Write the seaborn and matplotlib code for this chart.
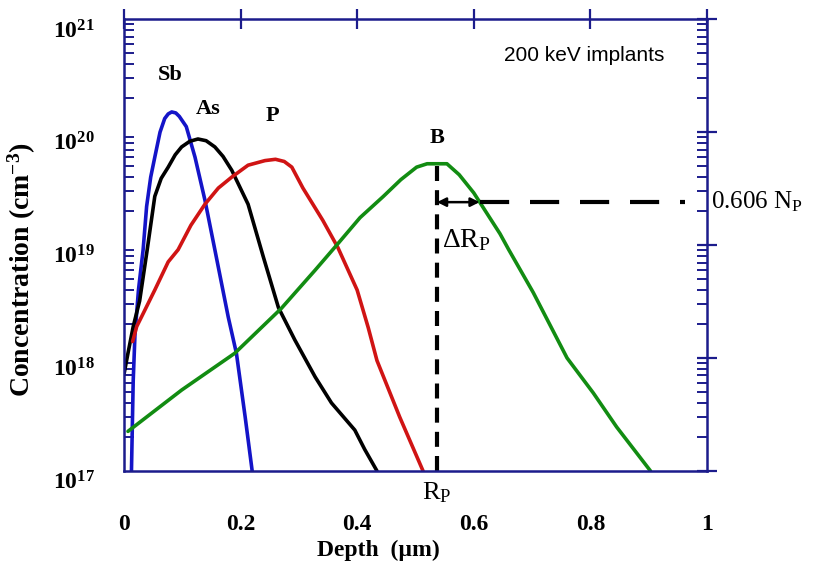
import numpy as np
import pandas as pd
import matplotlib
matplotlib.use("Agg")
import matplotlib.pyplot as plt
from matplotlib.ticker import FixedLocator, FixedFormatter, LogLocator, NullFormatter
from matplotlib.transforms import ScaledTranslation
import seaborn as sns

# depth (um) and concentration (cm-3)
sb_depth = [0.013, 0.016, 0.019, 0.025, 0.033, 0.039, 0.046, 0.053, 0.062, 0.070, 0.076, 0.082,
            0.089, 0.095, 0.107, 0.122, 0.139, 0.156, 0.179, 0.193, 0.208, 0.220]
sb_conc = [1.0e17, 6.3e17, 1.6e18, 4.0e18, 9.1e18, 2.2e19, 4.0e19, 6.0e19, 1.0e20, 1.32e20, 1.45e20, 1.51e20,
           1.48e20, 1.38e20, 1.12e20, 6.0e19, 2.5e19, 9.1e18, 2.3e18, 1.1e18, 3.0e17, 1.0e17]

as_depth = [0.0, 0.007, 0.016, 0.027, 0.040, 0.053, 0.064, 0.076, 0.088, 0.099, 0.113, 0.127, 0.141, 0.156,
            0.170, 0.185, 0.213, 0.239, 0.265, 0.293, 0.328, 0.356, 0.396, 0.413, 0.434]
as_conc = [7.1e17, 1.1e18, 1.9e18, 3.2e18, 9.1e18, 2.7e19, 3.9e19, 4.9e19, 6.3e19, 7.4e19, 8.3e19, 8.7e19, 8.4e19, 7.4e19,
           6.1e19, 4.6e19, 2.3e19, 7.9e18, 2.8e18, 1.45e18, 6.8e17, 4.0e17, 2.3e17, 1.55e17, 1.0e17]

p_depth = [0.015, 0.022, 0.030, 0.053, 0.076, 0.093, 0.115, 0.139, 0.162, 0.185, 0.213, 0.242,
           0.260, 0.275, 0.288, 0.307, 0.341, 0.367, 0.400, 0.419, 0.434, 0.473, 0.513]
p_conc = [1.4e18, 1.9e18, 2.3e18, 4.0e18, 7.1e18, 9.1e18, 1.5e19, 2.3e19, 3.2e19, 4.0e19, 5.1e19, 5.6e19,
          5.75e19, 5.5e19, 4.9e19, 3.2e19, 1.66e19, 9.5e18, 4.0e18, 1.86e18, 9.5e17, 3.0e17, 1.0e17]

b_depth = [0.007, 0.099, 0.190, 0.270, 0.328, 0.365, 0.405, 0.445, 0.475, 0.502, 0.520, 0.554,
           0.575, 0.600, 0.645, 0.660, 0.702, 0.760, 0.805, 0.845, 0.903]
b_conc = [2.24e17, 5.2e17, 1.1e18, 2.75e18, 6.0e18, 1.0e19, 1.75e19, 2.7e19, 3.8e19, 4.9e19, 5.25e19, 5.25e19,
          4.2e19, 2.9e19, 1.26e19, 9.1e18, 3.8e18, 1.0e18, 4.9e17, 2.45e17, 1.0e17]

rp = 0.537          # projected range of B
np_peak = 5.25e19   # B peak
level_606 = 2.4e19  # drawn level of 0.606 Np
drp_end = 0.61
dash_end = 0.963

xticks = [0, 0.2, 0.4, 0.6, 0.8, 1]
xtick_labels = ["0", "0.2", "0.4", "0.6", "0.8", "1"]
yticks = [1e17, 1e18, 1e19, 1e20, 1e21]
ytick_labels = ["$10^{17}$", "$10^{18}$", "$10^{19}$", "$10^{20}$", "$10^{21}$"]

ions = ["Sb", "As", "P", "B"]
colors = {"Sb": "#1414c8", "As": "#000000", "P": "#d01414", "B": "#128c12"}

frames = []
for ion, d, c in zip(ions, [sb_depth, as_depth, p_depth, b_depth], [sb_conc, as_conc, p_conc, b_conc]):
    frames.append(pd.DataFrame({"depth": d, "conc": c, "ion": ion}))
df = pd.concat(frames, ignore_index=True)

sns.set_style("white")
plt.rcParams["font.family"] = ["Liberation Serif", "DejaVu Serif"]
plt.rcParams["mathtext.default"] = "regular"
plt.rcParams["text.color"] = "black"
plt.rcParams["axes.labelcolor"] = "black"
plt.rcParams["xtick.labelcolor"] = "black"
plt.rcParams["ytick.labelcolor"] = "black"

axis_col = "#1c1c8c"

fig = plt.figure(figsize=(8.15, 5.66), dpi=100)
ax = fig.add_axes([0.152, 0.168, 0.7155, 0.798])

sns.lineplot(data=df, x="depth", y="conc", hue="ion", palette=colors, units="ion",
             estimator=None, sort=False, legend=False, linewidth=2.6, ax=ax)

ax.set_yscale("log")
ax.set_xlim(0, 1)
ax.set_ylim(1e17, 1e21)

# dashed construction lines for B
ax.plot([rp, rp], [1e17, np_peak], color="black", lw=3, ls=(0, (3.6, 2.2)))
ax.plot([drp_end, dash_end], [level_606, level_606], color="black", lw=3, ls=(0, (7, 5)))
ax.annotate("", xy=(rp, level_606), xytext=(drp_end, level_606),
            arrowprops=dict(arrowstyle="<|-|>", color="black", lw=1.8, mutation_scale=13,
                            shrinkA=0, shrinkB=0))

for s in ax.spines.values():
    s.set_color(axis_col)
    s.set_linewidth(1.8)

ax.xaxis.set_major_locator(FixedLocator(xticks))
ax.xaxis.set_major_formatter(FixedFormatter(xtick_labels))
ax.yaxis.set_major_locator(FixedLocator(yticks))
ax.yaxis.set_major_formatter(FixedFormatter(ytick_labels))
ax.yaxis.set_minor_locator(LogLocator(base=10, subs=np.arange(2, 10), numticks=20))
ax.yaxis.set_minor_formatter(NullFormatter())

ax.tick_params(axis="both", which="major", direction="inout", length=14, width=1.6,
               color=axis_col, labelcolor="black", top=True, right=True, pad=4)
ax.tick_params(axis="x", which="major", labelsize=17, pad=24)
ax.tick_params(axis="y", which="major", labelsize=17, pad=14)
ax.tick_params(axis="y", which="minor", direction="in", length=7, width=1.4,
               color=axis_col, left=True, right=True)
for lab in ax.get_xticklabels() + ax.get_yticklabels():
    lab.set_fontweight("bold")
# push the power-of-ten labels down so the superscript sits at the tick
shift = ScaledTranslation(0, -7 / 72, fig.dpi_scale_trans)
for lab in ax.get_yticklabels():
    lab.set_transform(lab.get_transform() + shift)

ax.set_xlabel("Depth  (\u00b5m)", fontsize=17, fontweight="bold", va="top")
ax.xaxis.set_label_coords(0.436, -0.152)
ax.set_ylabel("Concentration (cm$^{-3}$)", fontsize=20, fontweight="bold")
ax.yaxis.set_label_coords(-0.148, 0.445)

ax.text(0.079, 3.2e20, "Sb", fontsize=16, fontweight="bold", ha="center", va="center")
ax.text(0.144, 1.6e20, "As", fontsize=16, fontweight="bold", ha="center", va="center")
ax.text(0.254, 1.4e20, "P", fontsize=16, fontweight="bold", ha="center", va="center")
ax.text(0.537, 8.9e19, "B", fontsize=16, fontweight="bold", ha="center", va="center")
ax.text(0.79, 4.8e20, "200 keV implants", fontsize=15, family=["Liberation Sans", "DejaVu Sans"],
        ha="center", va="center")
ax.text(0.545, 1.1e19, "\u0394R$_{P}$", fontsize=20, ha="left", va="center")
ax.text(1.006, level_606, "0.606 N$_{P}$", fontsize=18, ha="left", va="center",
        transform=ax.get_yaxis_transform())
ax.text(rp, -0.02, "R$_{P}$", fontsize=19, ha="center", va="top",
        transform=ax.get_xaxis_transform())

fig.savefig("out.png", dpi=100)
